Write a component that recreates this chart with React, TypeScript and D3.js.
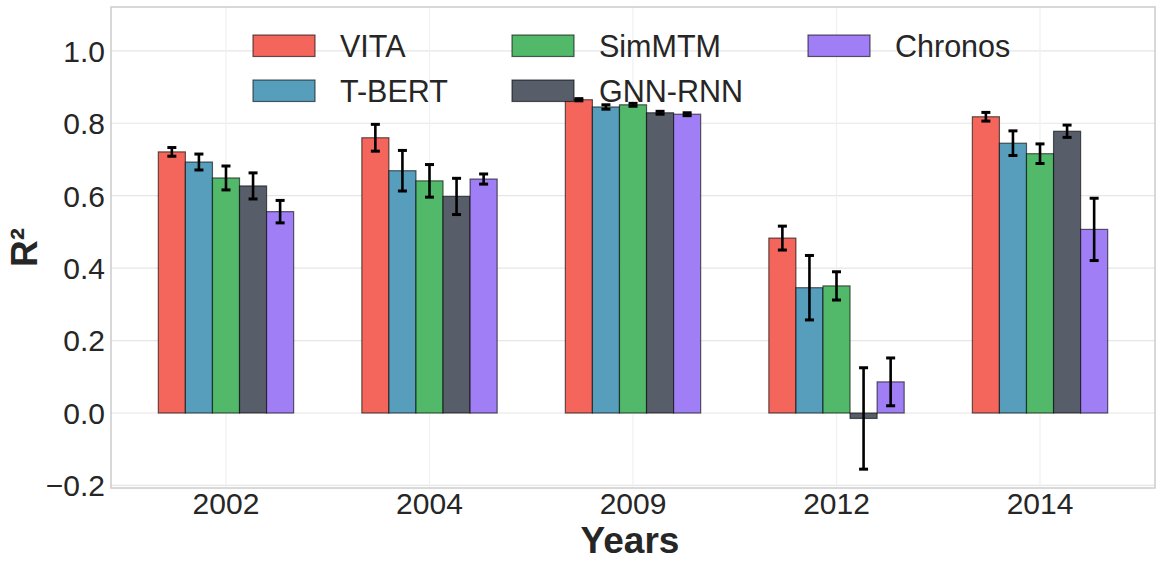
import React, { useEffect, useRef } from "react";
import * as d3 from "d3";

const years = ["2002", "2004", "2009", "2012", "2014"];
const models = ["VITA", "T-BERT", "SimMTM", "GNN-RNN", "Chronos"];
const colors = ["#f4665c", "#579ebd", "#52b96a", "#575e6a", "#a07ef5"];

// R² means per model, one entry per year
const vita = [0.721, 0.76, 0.865, 0.483, 0.818];
const tbert = [0.693, 0.669, 0.845, 0.346, 0.745];
const simmtm = [0.649, 0.641, 0.851, 0.351, 0.716];
const gnnrnn = [0.627, 0.598, 0.829, -0.015, 0.778];
const chronos = [0.556, 0.646, 0.825, 0.086, 0.507];

// standard deviations
const vitaErr = [0.012, 0.037, 0.003, 0.033, 0.012];
const tbertErr = [0.022, 0.056, 0.006, 0.089, 0.034];
const simmtmErr = [0.033, 0.045, 0.004, 0.039, 0.027];
const gnnrnnErr = [0.036, 0.05, 0.004, 0.14, 0.017];
const chronosErr = [0.031, 0.014, 0.004, 0.066, 0.086];

const yTicks = [-0.2, 0.0, 0.2, 0.4, 0.6, 0.8, 1.0];

const W = 1162;
const H = 566;
const FONT = "'Liberation Sans', Arial, sans-serif";

export default function App() {
  const ref = useRef<SVGSVGElement | null>(null);

  useEffect(() => {
    const svg = d3.select(ref.current);
    svg.selectAll("*").remove();

    const left = 111, right = 1155, top = 7, bottom = 488;
    const barW = 0.133;

    const x = d3.scaleLinear().domain([-0.565, 4.565]).range([left, right]);
    const y = d3.scaleLinear().domain([-0.207, 1.121]).range([bottom, top]);

    const means = [vita, tbert, simmtm, gnnrnn, chronos];
    const errs = [vitaErr, tbertErr, simmtmErr, gnnrnnErr, chronosErr];

    svg.append("rect").attr("width", W).attr("height", H).attr("fill", "#fff");

    // grid
    const grid = svg.append("g").attr("stroke", "#e6e6e6").attr("stroke-width", 1.2);
    yTicks.forEach((t) => {
      grid.append("line")
        .attr("x1", left).attr("x2", right)
        .attr("y1", y(t)).attr("y2", y(t));
    });
    years.forEach((_, i) => {
      grid.append("line")
        .attr("x1", x(i)).attr("x2", x(i))
        .attr("y1", top).attr("y2", bottom)
        .attr("stroke", "#f0f0f0");
    });

    // bars
    models.forEach((m, j) => {
      const g = svg.append("g");
      g.selectAll("rect")
        .data(means[j])
        .join("rect")
        .attr("x", (_, i) => x(i + (j - 2.5) * barW))
        .attr("width", x(barW) - x(0))
        .attr("y", (d) => Math.min(y(d), y(0)))
        .attr("height", (d) => Math.abs(y(d) - y(0)))
        .attr("fill", colors[j])
        .attr("stroke", "rgba(0,0,0,0.6)")
        .attr("stroke-width", 1.2);
    });

    // error bars
    models.forEach((m, j) => {
      const g = svg.append("g").attr("stroke", "#000").attr("stroke-width", 2.6);
      means[j].forEach((v, i) => {
        const cx = x(i + (j - 2) * barW);
        const e = errs[j][i];
        g.append("line").attr("x1", cx).attr("x2", cx).attr("y1", y(v - e)).attr("y2", y(v + e));
        [v - e, v + e].forEach((c) => {
          g.append("line").attr("x1", cx - 4.5).attr("x2", cx + 4.5).attr("y1", y(c)).attr("y2", y(c)).attr("stroke-width", 3);
        });
      });
    });

    // frame
    svg.append("rect")
      .attr("x", left).attr("y", top)
      .attr("width", right - left).attr("height", bottom - top)
      .attr("fill", "none").attr("stroke", "#cccccc").attr("stroke-width", 1.5);

    // y ticks
    svg.append("g").selectAll("text")
      .data(yTicks)
      .join("text")
      .attr("x", left - 6)
      .attr("y", (d) => y(d))
      .attr("dy", "0.36em")
      .attr("text-anchor", "end")
      .attr("font-family", FONT)
      .attr("font-size", 30)
      .attr("fill", "#262626")
      .text((d) => d3.format(".1f")(d).replace("-", "\u2212"));

    // x ticks
    svg.append("g").selectAll("text")
      .data(years)
      .join("text")
      .attr("x", (_, i) => x(i))
      .attr("y", 514)
      .attr("text-anchor", "middle")
      .attr("font-family", FONT)
      .attr("font-size", 30)
      .attr("fill", "#262626")
      .text((d) => d);

    // axis labels
    svg.append("text")
      .attr("x", (left + right) / 2 - 3)
      .attr("y", 553)
      .attr("text-anchor", "middle")
      .attr("font-family", FONT)
      .attr("font-size", 37)
      .attr("font-weight", "bold")
      .attr("fill", "#262626")
      .text("Years");

    svg.append("text")
      .attr("transform", `translate(37, ${(top + bottom) / 2}) rotate(-90)`)
      .attr("text-anchor", "middle")
      .attr("font-family", FONT)
      .attr("font-size", 37)
      .attr("font-weight", "bold")
      .attr("fill", "#262626")
      .text("R²");

    // legend: 3 columns, filled column-wise
    const colX = [253, 512, 808];
    const rowY = [35, 80];
    models.forEach((m, j) => {
      const c = Math.floor(j / 2);
      const r = j % 2;
      const lg = svg.append("g").attr("transform", `translate(${colX[c]}, ${rowY[r]})`);
      lg.append("rect")
        .attr("width", 62).attr("height", 21.5)
        .attr("fill", colors[j])
        .attr("stroke", "rgba(0,0,0,0.6)")
        .attr("stroke-width", 1.2);
      lg.append("text")
        .attr("x", 87).attr("y", 11)
        .attr("dy", "0.36em")
        .attr("font-family", FONT)
        .attr("font-size", 30.5)
        .attr("fill", "#262626")
        .text(m);
    });
  }, []);

  return <svg ref={ref} width={W} height={H} style={{ display: "block", position: "absolute", left: 0, top: 0 }} />;
}
